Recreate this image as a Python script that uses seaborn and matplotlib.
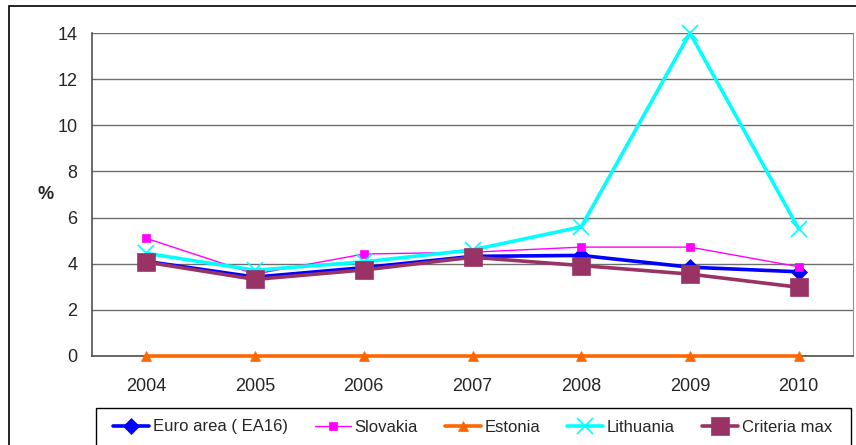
import matplotlib
matplotlib.use("Agg")
import matplotlib.pyplot as plt
from matplotlib.patches import Rectangle
from matplotlib.ticker import FixedLocator
import seaborn as sb
import pandas as pd
import numpy as np

# data
years = ["2004", "2005", "2006", "2007", "2008", "2009", "2010"]
euro_area = [4.1, 3.42, 3.83, 4.32, 4.36, 3.85, 3.65]
slovakia = [5.1, 3.55, 4.42, 4.5, 4.72, 4.72, 3.87]
estonia = [0, 0, 0, 0, 0, 0, 0]
lithuania = [4.45, 3.72, 4.08, 4.6, 5.6, 14.0, 5.52]
criteria_max = [4.07, 3.32, 3.73, 4.28, 3.92, 3.55, 2.98]

series_names = ["Euro area ( EA16)", "Slovakia", "Estonia", "Lithuania", "Criteria max"]
series_values = [euro_area, slovakia, estonia, lithuania, criteria_max]

colors = ["#0000FF", "#FF00FF", "#FF6600", "#00FFFF", "#993366"]
markers = ["D", "s", "^", "x", "s"]
msizes = [8, 6, 7, 12, 12.5]
lwidths = [2.6, 1.0, 2.6, 2.6, 2.6]

rows = []
for name, vals in zip(series_names, series_values):
    for i, v in enumerate(vals):
        rows.append({"year": i, "value": v, "series": name})
df = pd.DataFrame(rows)

sb.set_style("white")
plt.rcParams["font.family"] = ["Liberation Sans", "DejaVu Sans"]

fig = plt.figure(figsize=(8.56, 4.45), dpi=100)
ax = fig.add_axes([0.1075, 0.2, 0.889, 0.7258])

# draw back-to-front like the reference
order = [2, 4, 0, 3, 1]
for k in order:
    name = series_names[k]
    sub = df[df["series"] == name]
    sb.lineplot(data=sub, x="year", y="value", ax=ax, color=colors[k],
                marker=markers[k], markersize=msizes[k], linewidth=lwidths[k],
                markeredgecolor=colors[k], markeredgewidth=1.2 if markers[k] == "x" else 0.5,
                clip_on=False, zorder=3 + k, label=name)

ax.set_xlim(-0.5, 6.5)
ax.set_ylim(0, 14)
ax.set_yticks(np.arange(0, 15, 2))
ax.set_xticks(range(len(years)))
ax.set_xticklabels(years)
ax.xaxis.set_minor_locator(FixedLocator(np.arange(-0.5, 7, 1)))
ax.tick_params(axis="x", which="major", length=0, labelsize=13, pad=15.5)
ax.tick_params(axis="x", which="minor", length=4.5, width=1, color="#000000", direction="out")
ax.tick_params(axis="y", length=5, width=1, color="#000000", direction="out", labelsize=13, pad=5.5)

ax.grid(axis="y", color="#6e6e6e", linewidth=1)
ax.grid(axis="x", visible=False)
ax.set_axisbelow(True)
for s in ["left", "bottom"]:
    ax.spines[s].set_color("#505050")
    ax.spines[s].set_linewidth(1.2)
ax.spines["right"].set_color("#909090")
ax.spines["top"].set_visible(False)

ax.set_xlabel("")
ax.set_ylabel("%", rotation=0, fontsize=13, fontweight="bold", va="center", ha="center")
ax.yaxis.set_label_coords(-0.0604, 0.5)

ax.get_legend().remove()
h, l = ax.get_legend_handles_labels()
lookup = dict(zip(l, h))
leg = fig.legend([lookup[n] for n in series_names], series_names, loc="center left",
                 bbox_to_anchor=(113 / 856, 1 - 427 / 445), ncol=5, frameon=False,
                 handlelength=2.16, handletextpad=0.24, borderpad=0, borderaxespad=0,
                 columnspacing=1.6, prop={"size": 12})

# legend box and outer chart border
fig.patches.append(Rectangle((96 / 856, -0.1), 755 / 856, 0.1 + 1 - 408 / 445,
                             transform=fig.transFigure, fill=False,
                             edgecolor="#000000", linewidth=1.0))
fig.patches.append(Rectangle((9 / 856, -0.1), 1.2, 1 - 6 / 445 + 0.1, transform=fig.transFigure,
                             fill=False, edgecolor="#000000", linewidth=1.2))

fig.savefig("out.png", dpi=100)
